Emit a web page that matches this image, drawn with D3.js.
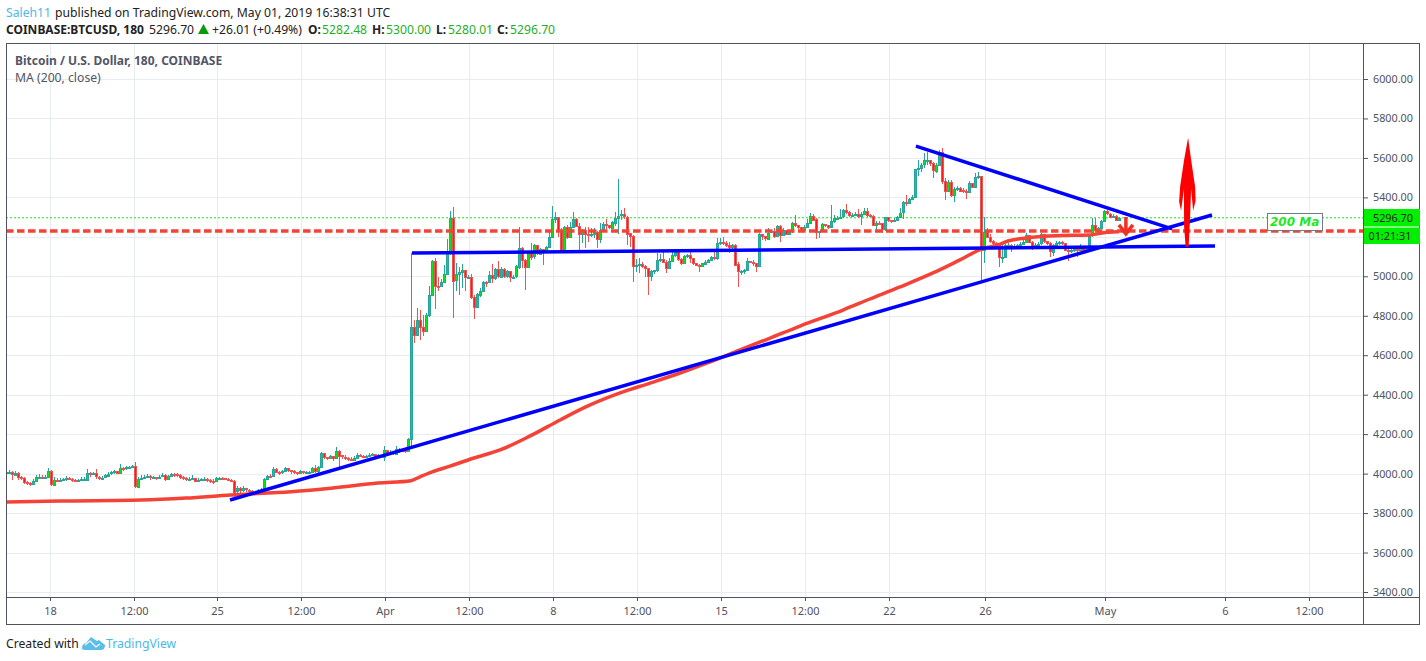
<!DOCTYPE html>
<html><head><meta charset="utf-8">
<script src="https://cdn.jsdelivr.net/npm/d3@7"></script>
<style>html,body{margin:0;padding:0;background:#fff}svg{display:block}text{font-family:"Noto Sans",sans-serif}</style>
</head><body><svg id="c" width="1426" height="661"></svg>
<script>
const closes=[
4006,4008,3996,4004,3984,3978,3956,3950,3946,3962,
3982,3984,3980,3982,4012,3945,3970,3968,3970,3972,
3978,3975,3970,3968,3968,3972,3972,4005,3998,4002,
3985,3978,3980,3992,4000,4006,4012,4003,4030,4025,
4032,4036,4038,3935,3975,3980,3985,3988,3982,3982,
3978,3985,3992,3972,3988,3998,3996,3995,3985,3978,
3975,3975,3980,3965,3970,3972,3972,3970,3965,3962,
3978,3978,3976,3975,3970,3965,3908,3925,3915,3925,
3918,3912,3908,3902,3908,3917,3975,3990,3988,4023,
4010,4008,4012,4028,4018,4012,4008,4002,4012,4005,
4008,4008,4028,4014,4035,4104,4085,4078,4088,4078,
4115,4092,4085,4080,4075,4072,4080,4095,4090,4085,
4088,4095,4100,4092,4092,4088,4122,4105,4108,4102,
4125,4120,4118,4112,4175,4745,4705,4779,4745,4725,
4804,4905,5078,4953,4950,4970,5011,5125,5298,4981,
5013,5021,5032,4995,4998,4897,4846,4910,4928,4973,
4968,5005,4988,5036,5000,5039,5001,5027,4995,4998,
5051,5145,5085,5048,5125,5100,5158,5115,5138,5128,
5150,5201,5290,5300,5236,5133,5250,5200,5250,5290,
5256,5213,5235,5213,5210,5215,5225,5190,5235,5265,
5258,5246,5275,5298,5308,5315,5303,5218,5204,5053,
5057,5060,5052,5043,5003,5027,5030,5083,5090,5075,
5043,5078,5108,5122,5088,5070,5104,5108,5092,5067,
5057,5050,5065,5075,5083,5097,5092,5168,5172,5168,
5160,5150,5160,5060,5022,5027,5033,5077,5075,5068,
5053,5214,5205,5193,5222,5228,5205,5255,5210,5235,
5214,5226,5268,5260,5250,5235,5252,5272,5308,5290,
5226,5228,5266,5260,5250,5280,5295,5298,5303,5334,
5325,5308,5312,5318,5306,5318,5332,5310,5308,5262,
5272,5268,5240,5299,5285,5278,5285,5302,5323,5375,
5368,5390,5400,5542,5548,5565,5587,5590,5575,5537,
5565,5630,5484,5433,5480,5415,5443,5450,5435,5433,
5430,5475,5455,5505,5506,5133,5226,5200,5178,5170,
5165,5100,5100,5160,5160,5152,5155,5158,5165,5175,
5208,5175,5150,5160,5165,5212,5178,5168,5125,5158,
5170,5172,5168,5135,5130,5135,5140,5135,5150,5135,
5140,5208,5260,5235,5243,5278,5330,5318,5305,5305,
5285,5297];
const highs=[
4020,4016,4012,4012,4006,3990,3982,3962,3958,3972,
3992,3998,3992,3992,4026,4020,3985,3978,3980,3980,
3990,3982,3978,3975,3975,3985,3985,4022,4006,4010,
4022,3990,3988,3998,4008,4012,4018,4012,4048,4035,
4038,4040,4042,4058,3985,3992,3995,3996,3992,3988,
3985,3995,4002,3998,3995,4002,4002,4002,3998,3988,
3985,3982,3992,3980,3978,3980,3985,3978,3975,3972,
3985,3982,3982,3980,3978,3974,3968,3935,3930,3935,
3928,3922,3918,3912,3920,3925,3980,3995,3996,4032,
4028,4014,4018,4036,4028,4018,4016,4010,4018,4012,
4014,4014,4034,4045,4040,4110,4105,4085,4095,4086,
4135,4118,4095,4092,4082,4082,4090,4102,4098,4092,
4095,4102,4106,4100,4098,4096,4140,4112,4118,4108,
4140,4130,4126,4120,4182,5120,4779,4839,4830,4804,
4812,4951,5083,5093,4998,4985,5057,5189,5331,5353,
5067,5045,5062,5032,5008,5012,4905,4915,4942,4976,
4976,5028,5062,5040,5077,5045,5042,5030,5004,5006,
5055,5248,5150,5090,5128,5170,5165,5160,5142,5132,
5155,5226,5358,5325,5302,5243,5255,5260,5277,5325,
5294,5270,5240,5252,5250,5243,5243,5230,5270,5275,
5290,5255,5280,5325,5493,5335,5348,5308,5222,5207,
5090,5092,5075,5056,5043,5030,5033,5120,5115,5123,
5085,5095,5125,5140,5128,5092,5110,5115,5130,5095,
5068,5060,5068,5085,5090,5102,5125,5195,5195,5200,
5180,5172,5162,5162,5070,5030,5038,5095,5080,5082,
5060,5220,5212,5198,5243,5235,5243,5260,5258,5243,
5220,5230,5275,5311,5262,5245,5260,5290,5320,5315,
5296,5232,5270,5265,5262,5361,5311,5305,5340,5340,
5365,5330,5320,5325,5340,5325,5345,5345,5315,5312,
5278,5280,5270,5302,5300,5285,5295,5308,5345,5380,
5412,5395,5412,5546,5590,5572,5625,5630,5590,5578,
5572,5640,5650,5500,5490,5488,5452,5460,5455,5450,
5445,5485,5475,5525,5530,5510,5300,5243,5215,5185,
5175,5168,5168,5165,5168,5162,5165,5165,5172,5182,
5218,5210,5178,5170,5172,5218,5215,5180,5172,5165,
5178,5180,5180,5170,5140,5148,5150,5155,5165,5150,
5148,5212,5295,5295,5250,5285,5336,5335,5320,5315,
5312,5302];
const lows=[
3992,3998,3970,3990,3968,3966,3948,3940,3938,3944,
3960,3976,3972,3974,3976,3935,3942,3958,3962,3964,
3965,3968,3958,3960,3962,3964,3966,3968,3985,3992,
3975,3968,3970,3976,3985,3992,3998,3996,4000,4012,
4020,4028,4030,3925,3930,3968,3972,3978,3970,3972,
3968,3972,3985,3965,3968,3985,3985,3985,3972,3968,
3965,3962,3970,3958,3955,3962,3962,3958,3950,3948,
3958,3968,3966,3966,3962,3956,3866,3895,3900,3905,
3908,3902,3890,3895,3895,3905,3912,3970,3976,3982,
4002,3995,4000,4010,4010,4000,3996,3995,4000,3998,
4000,4000,4004,4005,4005,4028,4072,4068,4072,4066,
4072,4032,4075,4070,4066,4062,4068,4075,4082,4078,
4078,4085,4090,4086,4082,4080,4062,4095,4098,4095,
4098,4105,4108,4104,4110,4140,4662,4700,4677,4700,
4720,4795,4900,4835,4925,4945,4965,5005,5110,4790,
4925,4905,4940,4925,4985,4885,4784,4840,4895,4925,
4945,4965,4965,4980,4990,4990,4990,4990,4973,4985,
4990,5035,5040,4931,5040,5085,5090,5110,5125,5058,
5122,5145,5198,5270,5200,5125,5125,5190,5195,5245,
5250,5133,5170,5145,5175,5200,5195,5145,5170,5230,
5240,5238,5240,5255,5215,5285,5290,5160,5150,4973,
5020,5015,5040,4995,4905,4975,5010,5020,5075,5070,
5018,5040,5075,5098,5080,5055,5065,5095,5065,5058,
5050,5022,5045,5060,5072,5085,5085,5085,5160,5158,
5150,5120,5125,5055,4948,5005,5012,5025,5065,5050,
5023,5050,5184,5180,5185,5220,5195,5200,5175,5205,
5208,5210,5222,5250,5240,5228,5232,5248,5268,5280,
5190,5194,5225,5252,5240,5245,5272,5290,5295,5298,
5315,5300,5302,5305,5298,5260,5310,5300,5300,5255,
5225,5260,5220,5230,5275,5270,5275,5280,5295,5290,
5355,5365,5385,5395,5510,5530,5550,5565,5560,5500,
5525,5560,5470,5385,5425,5400,5375,5430,5425,5420,
5390,5425,5448,5450,5495,4966,5065,5195,5170,5155,
5150,5049,5068,5095,5150,5125,5145,5148,5150,5160,
5170,5168,5135,5145,5155,5160,5170,5160,5100,5105,
5150,5160,5160,5128,5080,5120,5125,5100,5130,5125,
5130,5135,5200,5230,5235,5240,5275,5310,5300,5298,
5280,5285];

const maBars=[0,18,45,60,75,95,109,124,135,138,141,148,156,164.7,174.7,184.7,194.7,204.7,214.7,224.7,234.7,244.7,254.7,264.7,279,288,298,309,318,326,330,334,341,350,361,367,371];
const maValues=[3856,3861,3866,3876,3892,3908,3927,3952,3964,3984,4003,4038,4079,4120,4191,4272,4348,4409,4459,4510,4566,4627,4687,4748,4829,4885,4946,5017,5083,5143,5155,5179,5196,5206,5209,5223,5226];

const priceTicks=[3400,3600,3800,4000,4200,4400,4600,4800,5000,5200,5400,5600,5800,6000];
const priceLabels=priceTicks.filter(p=>p!==5200);
const timeTickBars=[14.67,42.67,70.33,98.33,126.33,154.33,182.33,210.33,238.33,266.33,294.33,326.33,366.33,406.33,434.33];
const timeTickLabels=["18","12:00","25","12:00","Apr","12:00","8","12:00","15","12:00","22","26","May","6","12:00"];

const trendUp=[[74.67,3866],[402,5311]];
const trendFlat=[[135.33,5118],[403,5154]];
const trendDown=[[303.3,5660],[388.7,5240]];
const resistance=5230;
const lastPrice=5296.7;

const W=1426,H=661,L=6,R=1363,T=43,B=597;
const svg=d3.select("#c");
const x=d3.scaleLinear().domain([0,452.33]).range([L,R]);
const y=d3.scaleLinear().domain([3400,6000]).range([592,79]);
const axisCol="#50535e",gridCol="#e6ecf2",textCol="#50535e";
const clipId="plot";
svg.append("defs").append("clipPath").attr("id",clipId).append("rect").attr("x",L).attr("y",T).attr("width",R-L).attr("height",B-T);

// grid
const grid=svg.append("g").attr("stroke",gridCol).attr("stroke-width",1).attr("shape-rendering","crispEdges");
grid.selectAll("line.h").data(priceTicks).join("line").attr("class","h").attr("x1",L).attr("x2",R).attr("y1",d=>Math.round(y(d))+.5).attr("y2",d=>Math.round(y(d))+.5);
grid.selectAll("line.v").data(timeTickBars).join("line").attr("class","v").attr("y1",T).attr("y2",B).attr("x1",d=>Math.round(x(d))+.5).attr("x2",d=>Math.round(x(d))+.5);

const plot=svg.append("g").attr("clip-path",`url(#${clipId})`);
// last price line
plot.append("line").attr("x1",L).attr("x2",R).attr("y1",y(lastPrice)).attr("y2",y(lastPrice)).attr("stroke","#19e01f").attr("stroke-width",1).attr("stroke-dasharray","2 2");

// candles
const candles=closes.map((c,i)=>({i,c,o:i?closes[i-1]:c-6,h:highs[i],l:lows[i]}));
const up=d=>d.c>=d.o;
const g=plot.append("g").attr("shape-rendering","crispEdges");
g.selectAll("line").data(candles).join("line")
 .attr("x1",d=>x(d.i)+.5).attr("x2",d=>x(d.i)+.5).attr("y1",d=>y(d.h)).attr("y2",d=>y(d.l))
 .attr("stroke",d=>up(d)?"#26a69a":"#ef5350").attr("stroke-width",1);
g.selectAll("rect").data(candles).join("rect")
 .attr("x",d=>x(d.i)-.5).attr("width",2)
 .attr("y",d=>Math.round(y(Math.max(d.o,d.c)))+.5)
 .attr("height",d=>Math.max(1,Math.round(Math.abs(y(d.o)-y(d.c)))))
 .attr("fill",d=>up(d)?"#00e61a":"#ff1a1a").attr("stroke",d=>up(d)?"#26a69a":"#ef5350").attr("stroke-width",1);

// MA
plot.append("path").datum(maBars.map((b,i)=>[b,maValues[i]]))
 .attr("d",d3.line().curve(d3.curveMonotoneX).x(d=>x(d[0])).y(d=>y(d[1])))
 .attr("fill","none").attr("stroke","#f44336").attr("stroke-width",3.5).attr("stroke-linejoin","round");

// resistance
plot.append("line").attr("x1",L).attr("x2",R).attr("y1",y(resistance)).attr("y2",y(resistance)).attr("stroke","#f44336").attr("stroke-width",3.5).attr("stroke-dasharray","7.5 3.5");

// trends
[trendUp,trendFlat,trendDown].forEach(t=>plot.append("line").attr("x1",x(t[0][0])).attr("y1",y(t[0][1])).attr("x2",x(t[1][0])).attr("y2",y(t[1][1])).attr("stroke","#0000ff").attr("stroke-width",3.5));

// arrows
plot.append("path").attr("transform",`translate(${x(393.7)},${y(5150)})`)
 .attr("d","M-1.5,0 L-3,-20 L-3.2,-58 L-6,-36 L-8,-45 L-7,-60 L-3,-87 L1,-109 L4,-87 L8,-60 L8.5,-46 L6,-36 L4,-58 L3,-30 L1.5,0 Z")
 .attr("fill","#ff0000");
plot.append("path").attr("transform",`translate(${x(373.3)},${y(5215)})`)
 .attr("d","M0,-17 L0,0 M-7,-9 L0,0 L7,-9").attr("fill","none").attr("stroke","#f03020").attr("stroke-width",3.5);

// label 200 Ma
svg.append("rect").attr("x",1267.5).attr("y",213.5).attr("width",55).attr("height",17).attr("fill","#fff").attr("stroke","#6f7d86").attr("stroke-width",1);
svg.append("text").attr("x",1270).attr("y",226).attr("font-size",12).attr("font-weight","bold").attr("font-style","italic").attr("fill","#1fe81f").style("font-family","DejaVu Sans").text("200 Ma");

// axes
const ax=svg.append("g").attr("transform",`translate(0,${B})`).call(d3.axisBottom(x).tickValues(timeTickBars).tickFormat((d,i)=>timeTickLabels[i]).tickSize(4).tickPadding(6));
ax.select(".domain").remove();
ax.selectAll("line").attr("stroke",axisCol);
ax.selectAll("text").attr("fill",textCol).style("font-size","11px").style("font-family","Noto Sans");
const ay=svg.append("g").attr("transform",`translate(${R},0)`).call(d3.axisRight(y).tickValues(priceLabels).tickFormat(d3.format(".2f")).tickSize(5).tickPadding(5));
ay.select(".domain").remove();
ay.selectAll("line").attr("stroke",axisCol);
ay.selectAll("text").attr("fill",textCol).style("font-size","10.8px").style("font-family","Noto Sans");

// frame
const frame=svg.append("g").attr("stroke",axisCol).attr("stroke-width",1).attr("fill","none").attr("shape-rendering","crispEdges");
frame.append("rect").attr("x",6.5).attr("y",43.5).attr("width",1413).attr("height",581);
frame.append("line").attr("x1",6).attr("x2",1420).attr("y1",597.5).attr("y2",597.5);
frame.append("line").attr("x1",1363.5).attr("x2",1363.5).attr("y1",43).attr("y2",625);

// price tags
svg.append("rect").attr("x",1364).attr("y",209).attr("width",56).attr("height",17.5).attr("fill","#00f000");
svg.append("rect").attr("x",1364).attr("y",227.5).attr("width",56).attr("height",16.5).attr("fill","#00f000");
svg.append("text").attr("x",1373).attr("y",221.5).attr("font-size",10.8).attr("fill","#222").text(d3.format(".2f")(lastPrice));
svg.append("text").attr("x",1368.5).attr("y",239.5).attr("font-size",10.8).attr("fill","#222").text("01:21:31");

// headings
const t=(xx,yy,s,o={})=>svg.append("text").attr("x",xx).attr("y",yy).attr("font-size",o.size||12.2).attr("font-weight",o.w||"normal").attr("fill",o.c||"#222").text(s);
t(6,17,"Saleh11",{c:"#4db8e8"});
t(55,17,"published on TradingView.com, May 01, 2019 16:38:31 UTC");
t(6,34,"COINBASE:BTCUSD, 180",{w:"bold",size:12});
t(149,34,"5296.70");
svg.append("path").attr("d","M198,34 L203.5,24 L209,34 Z").attr("fill","#0a9b0a");
t(212,34,"+26.01 (+0.49%)");
const G="#1faf1f";
[["O:",308,"5282.48",322],["H:",372,"5300.00",386],["L:",436,"5280.01",448],["C:",497,"5296.70",510]].forEach(a=>{t(a[1],34,a[0],{w:"bold",size:12});t(a[3],34,a[2],{c:G});});
t(15,65,"Bitcoin / U.S. Dollar, 180, COINBASE",{w:"bold",c:"#535666",size:12});
t(15,82,"MA (200, close)",{c:"#535666"});
// footer
t(6,648,"Created with");
svg.append("path").attr("d","M82,648 Q82,644 86,643 L91,637 L97,641 L99,640 L105,645 Q105,650 101,650 L86,650 Q82,650 82,648 Z").attr("fill","#5bbde8");
svg.append("path").attr("d","M85,645 L90,641 L96,647 L100,644").attr("fill","none").attr("stroke","#fff").attr("stroke-width",1.2);
t(106,648,"TradingView",{c:"#4db8e8"});
</script></body></html>
